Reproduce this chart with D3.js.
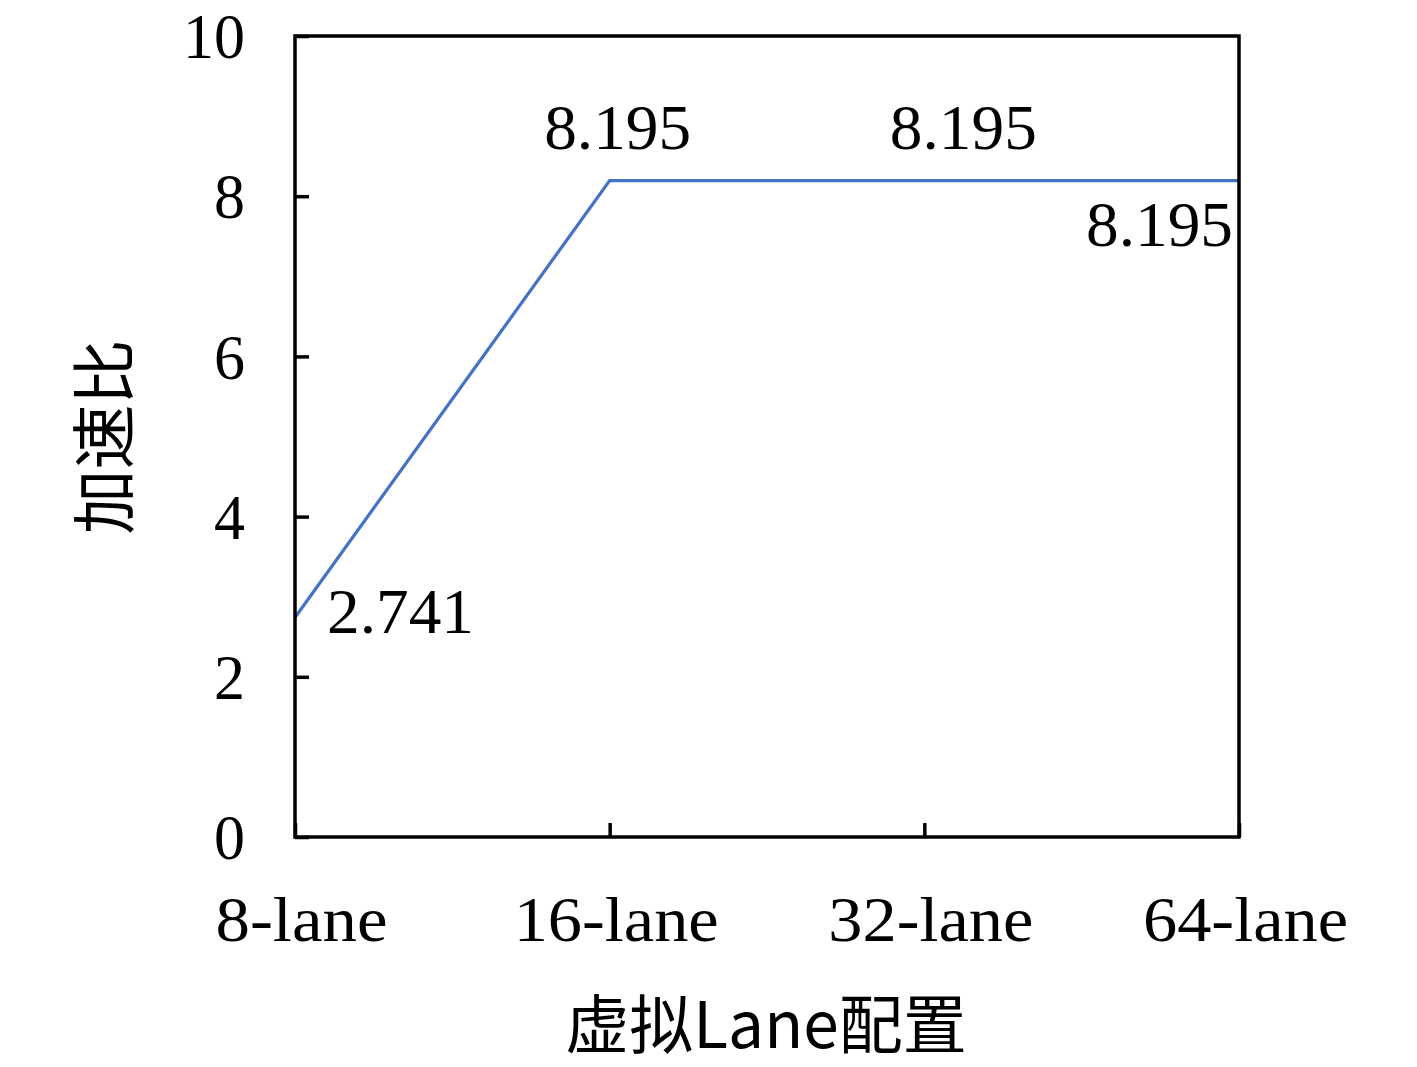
<!DOCTYPE html>
<html><head><meta charset="utf-8">
<script src="https://cdn.jsdelivr.net/npm/d3@7"></script>
<style>body{margin:0;background:#fff}</style>
</head><body>
<svg id="c" width="1417" height="1067"></svg>
<script>
const categories = ["8-lane","16-lane","32-lane","64-lane"];
const speedup = [2.741, 8.195, 8.195, 8.195];
const labels = ["2.741","8.195","8.195","8.195"];
const yTicks = [0,2,4,6,8,10];

const svg = d3.select("#c");
const L=295,R=1239,T=36,B=837;
const x = d3.scalePoint().domain(categories).range([L,R]).padding(0);
const y = d3.scaleLinear().domain([0,10]).range([B,T]);
const serif = "'Liberation Serif','DejaVu Serif',serif";
const cjk = "'Noto Sans CJK SC',sans-serif";

// line
svg.append("path").datum(speedup)
  .attr("fill","none").attr("stroke","#4472C4").attr("stroke-width",3.2)
  .attr("d", d3.line().x((d,i)=>x(categories[i])).y(d=>y(d)));

// y axis ticks (inward)
const ya = svg.append("g").attr("transform",`translate(${L},0)`)
  .call(d3.axisLeft(y).tickValues(yTicks).tickSize(-14).tickFormat(d3.format("d")));
ya.select(".domain").remove();
ya.selectAll("line").attr("stroke","#000").attr("stroke-width",3.5);
ya.selectAll("text").attr("font-family",serif).attr("font-size",64).attr("fill","#000")
  .attr("dy","0.34em").attr("x",-50).attr("text-anchor","end")
  .attr("textLength",d=>d>=10?62:31).attr("lengthAdjust","spacingAndGlyphs");

// x axis ticks (inward)
const xa = svg.append("g").attr("transform",`translate(0,${B})`)
  .call(d3.axisBottom(x).tickSize(-14).tickPadding(0));
xa.select(".domain").remove();
xa.selectAll("line").attr("stroke","#000").attr("stroke-width",3.5);
xa.selectAll("text").attr("font-family",serif).attr("font-size",64).attr("fill","#000")
  .attr("dy",null).attr("y",104).attr("x",6)
  .attr("textLength",d=>d.length===6?172:205).attr("lengthAdjust","spacingAndGlyphs");

// frame
svg.append("rect").attr("x",L).attr("y",T).attr("width",R-L).attr("height",B-T)
  .attr("fill","none").attr("stroke","#000").attr("stroke-width",3.5);

// data labels
const lblPos = [
  {dx:32, dy:16, anchor:"start"},
  {dx:8, dy:-32, anchor:"middle"},
  {dx:39, dy:-32, anchor:"middle"},
  {dx:-6, dy:65, anchor:"end"}
];
svg.append("g").selectAll("text").data(speedup).join("text")
  .attr("x",(d,i)=>x(categories[i])+lblPos[i].dx)
  .attr("y",(d,i)=>y(d)+lblPos[i].dy)
  .attr("text-anchor",(d,i)=>lblPos[i].anchor)
  .attr("font-family",serif).attr("font-size",64).attr("fill","#000")
  .attr("textLength",147).attr("lengthAdjust","spacingAndGlyphs")
  .text((d,i)=>labels[i]);

// axis titles
svg.append("text").attr("x",766).attr("y",1048).attr("text-anchor","middle")
  .attr("font-family",cjk).attr("font-size",64).attr("fill","#000")
  .text("虚拟Lane配置");
svg.append("text").attr("transform","translate(128,437) rotate(-90)").attr("text-anchor","middle")
  .attr("font-family",cjk).attr("font-size",65).attr("fill","#000")
  .text("加速比");
</script>
</body></html>
